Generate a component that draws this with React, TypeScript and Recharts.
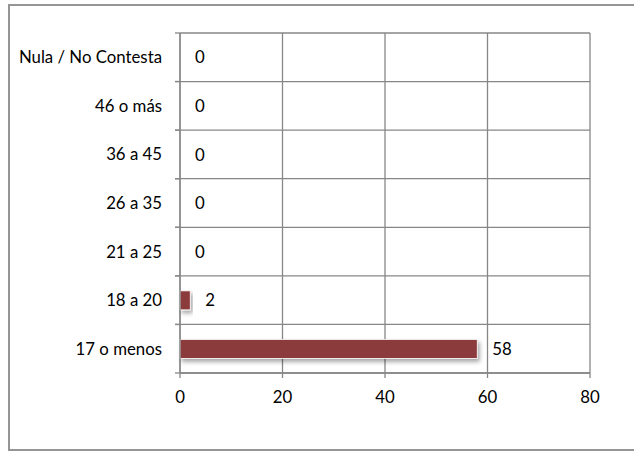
import React from "react";
import {
  BarChart,
  Bar,
  XAxis,
  YAxis,
  CartesianGrid,
  LabelList,
} from "recharts";

const categories = [
  "Nula / No Contesta",
  "46 o más",
  "36 a 45",
  "26 a 35",
  "21 a 25",
  "18 a 20",
  "17 o menos",
];
const counts = [0, 0, 0, 0, 0, 2, 58];
const xTicks = [0, 20, 40, 60, 80];

const data = categories.map((c, i) => ({ name: c, value: counts[i] }));

const FONT = "Lato, 'Open Sans', sans-serif";
const FS = 16.8;
const GRID = "#878787";
const BAR = "#8b3a3a";
const ROWS = categories.length;

// grid lines go on the row boundaries, like the spreadsheet chart
// eslint-disable-next-line @typescript-eslint/no-explicit-any
function rowLines({ offset }: any) {
  const out: number[] = [];
  for (let i = 0; i <= ROWS; i++) out.push(offset.top + (offset.height * i) / ROWS);
  return out;
}

// eslint-disable-next-line @typescript-eslint/no-explicit-any
function CategoryTick({ x, y, payload }: any) {
  const axisX = x + 13 + 5;
  const half = 340 / ROWS / 2;
  return (
    <g>
      <line x1={axisX - 5} x2={axisX} y1={y - half} y2={y - half} stroke={GRID} strokeWidth={1.3} />
      <line x1={axisX - 5} x2={axisX} y1={y + half} y2={y + half} stroke={GRID} strokeWidth={1.3} />
      <text x={x} y={y} dy="0.355em" textAnchor="end" fill="#000" fontSize={FS} fontFamily={FONT}>
        {payload.value}
      </text>
    </g>
  );
}

// eslint-disable-next-line @typescript-eslint/no-explicit-any
function ShadowBar({ x, y, width, height }: any) {
  if (!width || width <= 0) return null;
  return (
    <rect
      x={x}
      y={y}
      width={width}
      height={height}
      fill={BAR}
      stroke="#fff"
      strokeWidth={0.8}
      filter="url(#barShadow)"
    />
  );
}

export default function App() {
  return (
    <div style={{ position: "absolute", left: 0, top: 0, width: 634, height: 454, overflow: "hidden", background: "#fff" }}>
      <div
        style={{
          position: "absolute",
          left: 8,
          top: 4,
          width: 700,
          height: 447,
          border: "2px solid #959595",
          boxSizing: "border-box",
        }}
      />
      <div style={{ position: "absolute", left: 0, top: 0 }}>
        <BarChart
          width={634}
          height={454}
          data={data}
          layout="vertical"
          margin={{ top: 33, right: 44, bottom: 51, left: 0 }}
          barSize={19}
        >
          <defs>
            <filter id="barShadow" x="-10%" y="-30%" width="130%" height="190%">
              <feDropShadow dx="2" dy="3" stdDeviation="2" floodColor="#000" floodOpacity="0.35" />
            </filter>
          </defs>
          <CartesianGrid
            stroke={GRID}
            strokeWidth={1.3}
            horizontalCoordinatesGenerator={rowLines}
          />
          <XAxis
            type="number"
            domain={[0, 80]}
            ticks={xTicks}
            height={30}
            tickSize={5}
            tickMargin={13}
            axisLine={{ stroke: GRID, strokeWidth: 1.3 }}
            tickLine={{ stroke: GRID, strokeWidth: 1.3 }}
            tick={{ fill: "#000", fontSize: FS, fontFamily: FONT }}
          />
          <YAxis
            type="category"
            dataKey="name"
            width={180}
            tickSize={5}
            tickMargin={13}
            axisLine={{ stroke: GRID, strokeWidth: 1.3 }}
            tickLine={false}
            tick={<CategoryTick />}
            interval={0}
          />
          <Bar dataKey="value" fill={BAR} shape={<ShadowBar />} isAnimationActive={false}>
            <LabelList
              dataKey="value"
              position="right"
              offset={15}
              fill="#000"
              fontSize={FS}
              fontFamily={FONT}
            />
          </Bar>
        </BarChart>
      </div>
    </div>
  );
}
